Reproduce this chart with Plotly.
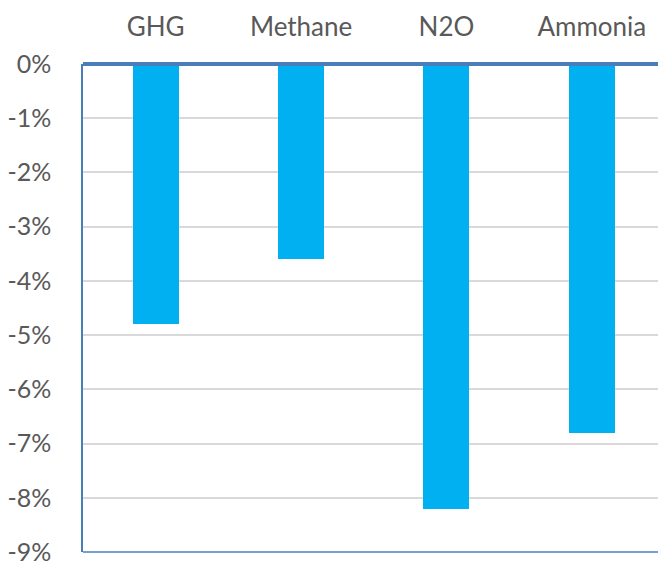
import plotly.graph_objects as go

# Emission change by pollutant (percent)
categories = ["GHG", "Methane", "N2O", "Ammonia"]
change_pct = [-4.8, -3.6, -8.2, -6.8]
tick_values = [0, -1, -2, -3, -4, -5, -6, -7, -8, -9]
tick_labels = ["0%", "-1%", "-2%", "-3%", "-4%", "-5%", "-6%", "-7%", "-8%", "-9%"]

text_color = "#595959"
axis_color = "#4a7ebb"
font_family = "Lato"

fig = go.Figure(
    go.Bar(
        x=categories,
        y=change_pct,
        marker=dict(color="#00B0F0", line=dict(width=0)),
        width=0.316,
    )
)

fig.update_layout(
    width=658,
    height=563,
    margin=dict(l=83, r=0, t=64, b=11),
    paper_bgcolor="white",
    plot_bgcolor="white",
    showlegend=False,
    font=dict(family=font_family, color=text_color, size=24),
    bargap=0,
)

fig.update_xaxes(
    side="top",
    range=[-0.5, 3.455],
    automargin=False,
    showline=False,
    showgrid=False,
    ticks="",
    ticklabelstandoff=22,
    tickfont=dict(size=26, color=text_color, family=font_family),
)

fig.update_yaxes(
    range=[-9, 0],
    tickvals=tick_values,
    ticktext=tick_labels,
    automargin=False,
    showline=True,
    linewidth=1.5,
    linecolor=axis_color,
    showgrid=True,
    gridcolor="#d9d9d9",
    gridwidth=1.5,
    zeroline=False,
    ticks="",
    ticklabelstandoff=25,
    ticklabeloverflow="allow",
    tickfont=dict(size=25, color=text_color, family=font_family),
)

# Category axis line along the zero level, drawn over the bar tops
fig.add_shape(
    type="line",
    xref="paper",
    yref="y domain",
    x0=0,
    x1=1,
    y0=1,
    y1=1,
    line=dict(color=axis_color, width=4),
    layer="above",
)

# Bottom border of the plot area
fig.add_shape(
    type="line",
    xref="paper",
    yref="y domain",
    x0=0,
    x1=1,
    y0=0,
    y1=0,
    line=dict(color=axis_color, width=1.5),
)

fig.write_html("out.html")
